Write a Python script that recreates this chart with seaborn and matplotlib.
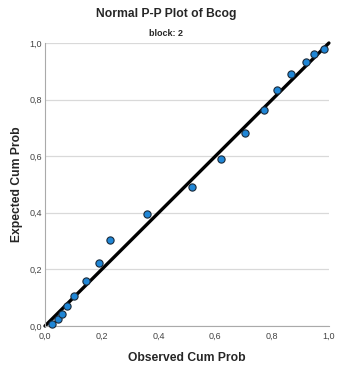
import numpy as np
import pandas as pd
import seaborn as sns
from matplotlib import pyplot as plt
from matplotlib.ticker import FuncFormatter

observed = [0.024, 0.047, 0.059, 0.076, 0.102, 0.146, 0.189, 0.228, 0.358,
            0.518, 0.619, 0.703, 0.772, 0.816, 0.865, 0.919, 0.948, 0.981]
expected = [0.007, 0.026, 0.042, 0.069, 0.107, 0.159, 0.223, 0.304, 0.395,
            0.492, 0.590, 0.682, 0.764, 0.834, 0.889, 0.932, 0.960, 0.978]
ticks = [0.0, 0.2, 0.4, 0.6, 0.8, 1.0]

df = pd.DataFrame({'observed': observed, 'expected': expected})

sns.set_style('white')
plt.rcParams['font.family'] = ['Liberation Sans', 'DejaVu Sans']

fig = plt.figure(figsize=(3.37, 3.72), dpi=100)
ax = fig.add_axes([0.1335, 0.1237, 0.8425, 0.7607])

ax.plot([0, 1], [0, 1], color='black', lw=2.4, zorder=2, clip_on=False)
sns.scatterplot(data=df, x='observed', y='expected', ax=ax, s=27,
                color='#1f86d6', edgecolor='#1a2a3a', linewidth=0.8, zorder=3,
                clip_on=False)

ax.set_xlim(0, 1)
ax.set_ylim(0, 1)
ax.set_xticks(ticks)
ax.set_yticks(ticks)
fmt = FuncFormatter(lambda v, p: f'{v:.1f}'.replace('.', ','))
ax.xaxis.set_major_formatter(fmt)
ax.yaxis.set_major_formatter(fmt)
ax.tick_params(labelsize=6.5, colors='#444444', length=0)
ax.tick_params(axis='x', pad=4)
ax.tick_params(axis='y', pad=2)
ax.yaxis.grid(True, color='#d9d9d9', lw=0.9)
ax.set_axisbelow(True)
for s in ['top', 'right']:
    ax.spines[s].set_visible(False)
for s in ['left', 'bottom']:
    ax.spines[s].set_color('#aaaaaa')
    ax.spines[s].set_linewidth(0.8)

ax.set_xlabel('Observed Cum Prob', fontsize=8.7, fontweight='bold', labelpad=8)
ax.set_ylabel('Expected Cum Prob', fontsize=8.7, fontweight='bold', labelpad=5)

fig.text(0.492, 0.962, 'Normal P-P Plot of Bcog', ha='center', va='center',
         fontsize=8.7, fontweight='bold')
fig.text(0.492, 0.911, 'block: 2', ha='center', va='center',
         fontsize=6.5, fontweight='bold')

fig.savefig('out.png', dpi=100)
